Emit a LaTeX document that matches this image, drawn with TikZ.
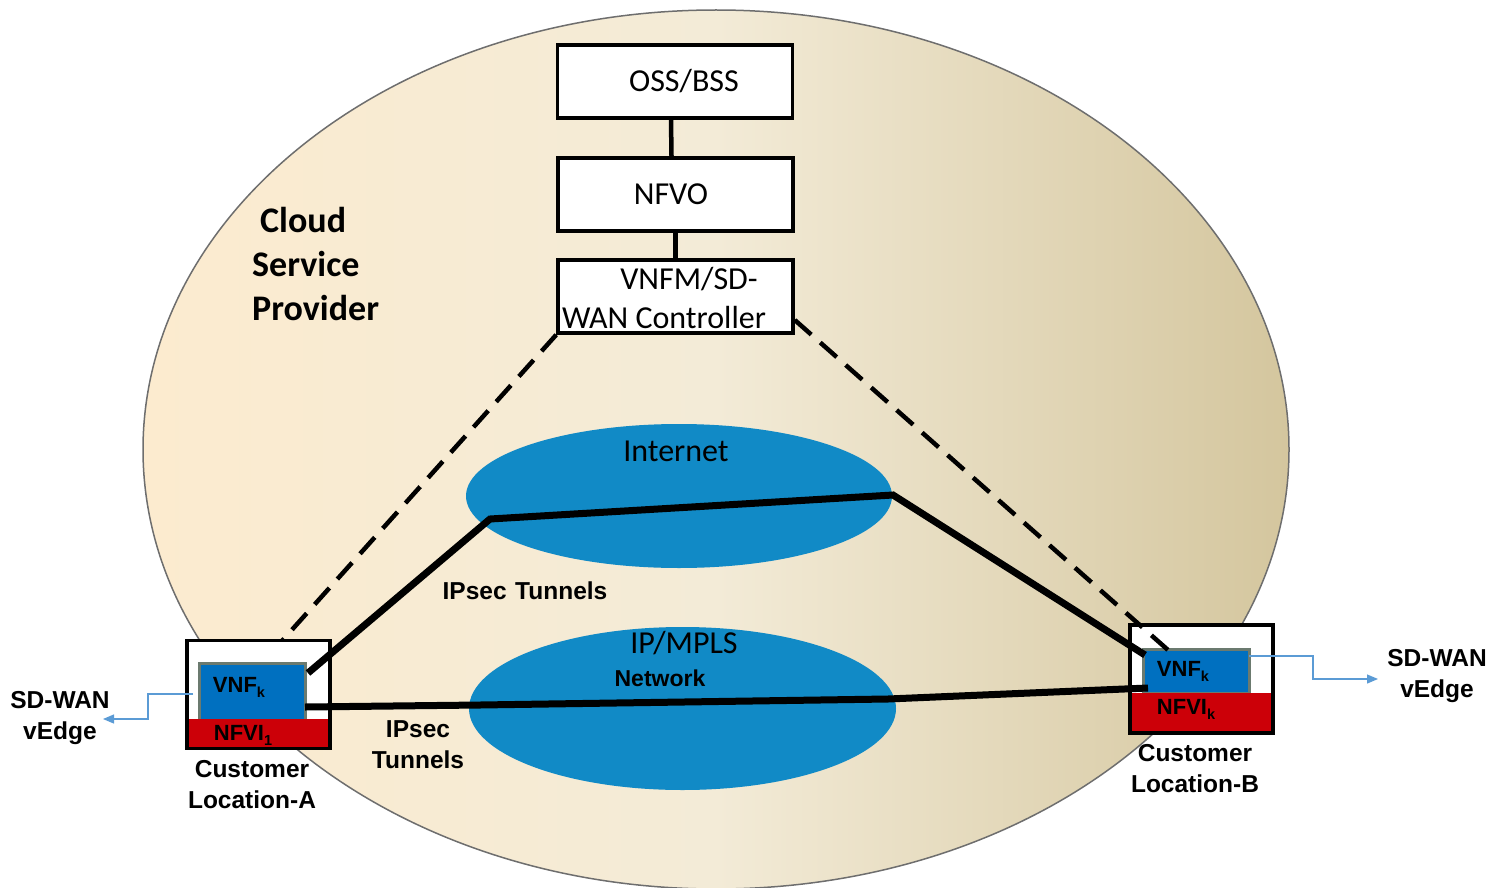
\documentclass[tikz,border=0pt]{standalone}
\usepackage{fontspec}
\setmainfont{Liberation Sans}
\newfontfamily\calfont{Carlito}
\usetikzlibrary{shapes.geometric,arrows.meta}
\definecolor{cloudL}{RGB}{252,235,207}
\definecolor{cloudM}{RGB}{243,235,215}
\definecolor{cloudR}{RGB}{212,198,158}
\definecolor{cloudEdge}{RGB}{110,110,110}
\definecolor{netblue}{RGB}{17,138,198}
\definecolor{vnfblue}{RGB}{0,112,192}
\definecolor{vnfgray}{RGB}{107,122,111}
\definecolor{nfvired}{RGB}{204,0,8}
\definecolor{arrowblue}{RGB}{91,155,213}
\tikzset{
  mgmtbox/.style={draw, line width=3.5pt, fill=white, minimum width=235pt, minimum height=73pt, inner sep=0pt, font=\calfont\fontsize{32}{38}\selectfont},
  caltext/.style={font=\calfont\fontsize{32}{38}\selectfont, inner sep=0pt},
  lbl/.style={font=\bfseries\fontsize{24.5}{31}\selectfont, align=center, inner sep=0pt},
  boxtext/.style={font=\bfseries\fontsize{22}{24}\selectfont, inner sep=0pt},
  netcloud/.style={ellipse, fill=netblue, inner sep=0pt},
  outerbox/.style={fill=white, minimum width=143pt, inner sep=0pt},
  vnfbox/.style={fill=vnfblue, draw=vnfgray, line width=3pt, minimum width=106pt, inner sep=0pt},
  nfvibox/.style={fill=nfvired, minimum width=143pt, inner sep=0pt},
  link/.style={line width=4.5pt},
  tunnel/.style={line width=7pt},
  ctrl/.style={line width=4.5pt, dash pattern=on 22pt off 12pt},
  edgearrow/.style={draw=arrowblue, line width=1.2pt, -{Triangle[length=11pt,width=9pt]}}
}
\newcommand{\subk}[1]{{\fontsize{14.5}{14.5}\selectfont\raisebox{-5pt}{#1}}}
\begin{document}
\begin{tikzpicture}[x=1pt,y=-1pt]
\useasboundingbox (0,0) rectangle (1490,888);
% cloud
\path[draw=cloudEdge, line width=1.5pt, left color=cloudL, right color=cloudR, middle color=cloudM] (716,449.5) ellipse [x radius=573pt, y radius=439.5pt];
% management stack
\node[mgmtbox] (oss) at (675,81.5) {\hspace*{18pt}OSS/BSS};
\node[mgmtbox] (nfvo) at (675.5,194.5) {NFVO\hspace*{9pt}};
\node[mgmtbox] (vnfm) at (675.5,296.5) {};
\node[caltext] (vnfmA) at (689,279) {VNFM/SD-};
\node[caltext] (vnfmB) at (664,318) {WAN Controller};
\draw[link] ([xshift=-4pt]oss.south) -- ([xshift=-4pt]nfvo.north);
\draw[link] (nfvo.south) -- (vnfm.north);
% cloud label
\node[font=\calfont\bfseries\fontsize{36}{44}\selectfont, anchor=west, inner sep=0pt] (cl1) at (260,220) {Cloud};
\node[font=\calfont\bfseries\fontsize{36}{44}\selectfont, anchor=west, inner sep=0pt] (cl2) at (252,264) {Service};
\node[font=\calfont\bfseries\fontsize{36}{44}\selectfont, anchor=west, inner sep=0pt] (cl3) at (252,308) {Provider};
% networks
\node[netcloud, minimum width=426pt, minimum height=144pt] (inet) at (679,496) {};
\node[caltext] (inetlbl) at (676,451) {Internet};
\node[netcloud, minimum width=427pt, minimum height=163pt] (mpls) at (682.5,708.5) {};
\node[caltext] (mplslbl) at (684,643) {IP/MPLS};
\node[font=\bfseries\fontsize{23}{28}\selectfont, inner sep=0pt] (netlbl) at (660,678) {Network};
% dashed control A (under box)
\coordinate (dA) at (281,642);
\draw[ctrl] (vnfm.south west) -- (dA);
% customer location A
\node[outerbox, minimum height=108pt] (boxA) at (258.5,694.5) {};
\node[vnfbox, minimum height=57pt] (vnfA) at (252,691.5) {};
\node[nfvibox, minimum height=30pt] (nfviA) at (258.5,734) {};
\draw[line width=3.5pt] (boxA.north west) rectangle (boxA.south east);
\node[boxtext] (vnfAt) at (239,687) {VNF\subk{k}};
\node[boxtext] (nfviAt) at (243,735) {NFVI\subk{1}};
% customer location B
\node[outerbox, minimum height=108pt] (boxB) at (1201.5,679) {};
\node[vnfbox, minimum height=44pt] (vnfB) at (1196,671) {};
\node[nfvibox, minimum height=40pt] (nfviB) at (1201.5,713) {};
\draw[line width=3.5pt] (boxB.north west) rectangle (boxB.south east);
\node[boxtext] (vnfBt) at (1183,671) {VNF\subk{k}};
\node[boxtext] (nfviBt) at (1186,709) {NFVI\subk{k}};
% tunnels
\coordinate (aT) at (308,673);
\coordinate (iL) at (490,519);
\coordinate (iR) at (893,495);
\coordinate (bT) at (1145,655);
\coordinate (aM) at (305,707);
\coordinate (mL) at (480,705);
\coordinate (mR) at (888,699);
\coordinate (bM) at (1148,688);
\draw[tunnel] (aT) -- (iL) -- (iR) -- (bT);
\draw[tunnel] (aM) -- (mL) -- (mR) -- (bM);
% dashed control B
\coordinate (dB) at (1168,650);
\draw[ctrl] ([yshift=-23.5pt]vnfm.east) -- (dB);
% vEdge arrows
\coordinate (aOut) at (193,694);
\coordinate (aEnd) at (103,719);
\draw[edgearrow] (aOut) -- (148,694) -- (148,719) -- (aEnd);
\coordinate (bOut) at (1249,656);
\coordinate (bEnd) at (1378,679);
\draw[edgearrow] (bOut) -- (1313,656) -- (1313,679) -- (bEnd);
% labels
\node[lbl] (tun1) at (525,591) {IPsec\hspace{0.35em}Tunnels};
\node[lbl] (tun2) at (418,745) {IPsec\\Tunnels};
\node[lbl] (vedgeA) at (60,718) {SD-WAN\\vEdge};
\node[lbl] (vedgeB) at (1437,676) {SD-WAN\\vEdge};
\node[lbl] (custA) at (252,785) {Customer\\Location-A};
\node[lbl] (custB) at (1195,769) {Customer\\Location-B};
\end{tikzpicture}
\end{document}
